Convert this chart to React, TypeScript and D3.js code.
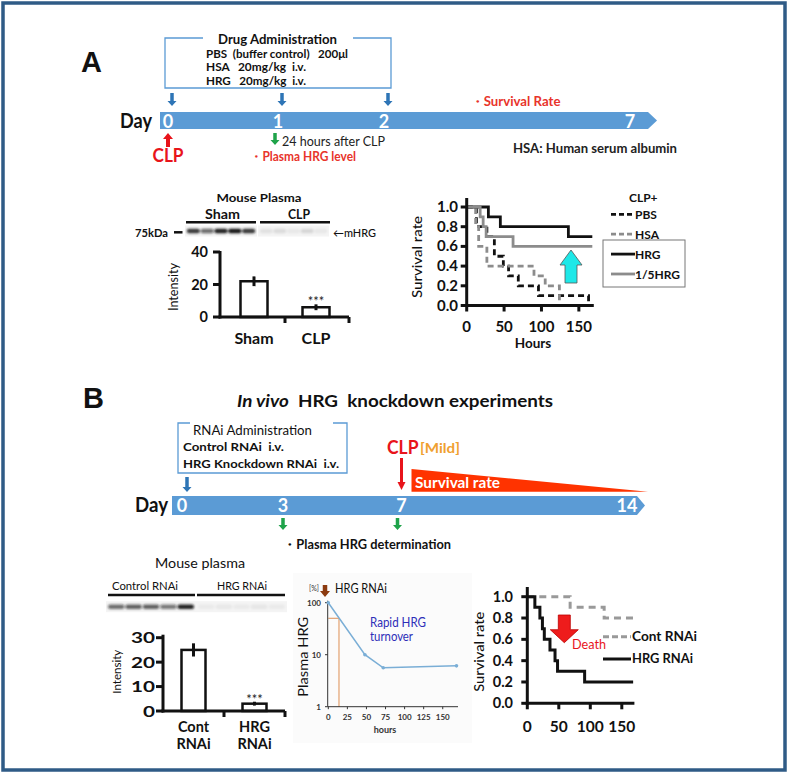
import React, { useEffect } from 'react';
import * as d3 from 'd3';

const W = 790;
const H = 774;
const F = "Lato, 'Open Sans', sans-serif";
const FA = "'Liberation Sans', Arial, sans-serif";

// ---- Panel A timeline
const daysA = [0, 1, 2, 7];
const dosingDaysA = [0, 1, 2];

// ---- Panel A: plasma HRG (western blot quantification)
const barCatsA = ['Sham', 'CLP'];
const barValsA = [22, 6];
const barErrA = [3, 1.8];
const barTicksA = [0, 20, 40];
const blotShamA = [0.85, 0.6, 0.95, 1, 0.85];
const blotClpA = [0.08, 0.1, 0.05, 0.12, 0.05];

// ---- Panel A: survival after CLP (hours, fraction)
const survPBS = [[0, 1], [13, 0.8], [27, 0.7], [37, 0.5], [49, 0.4], [56, 0.3], [69, 0.2], [96, 0.1], [163, 0]];
const survHSA = [[0, 1], [12, 0.8], [16, 0.6], [27, 0.4], [90, 0.3], [105, 0.2], [124, 0]];
const survHRG = [[0, 1], [29, 0.9], [45, 0.8], [136, 0.7]];
const survHRG5 = [[0, 1], [18, 0.9], [22, 0.8], [26, 0.7], [62, 0.6]];
const survEnd = 168;
const survTicksX = [0, 50, 100, 150];
const survTicksY = [0, 0.2, 0.4, 0.6, 0.8, 1.0];

// ---- Panel B timeline
const daysB = [0, 3, 7, 14];
const samplingDaysB = [3, 7];

// ---- Panel B: plasma HRG after RNAi
const barCatsB = [['Cont', 'RNAi'], ['HRG', 'RNAi']];
const barValsB = [25, 3];
const barErrB = [2.7, 0.8];
const barTicksB = [0, 10, 20, 30];
const blotCtrlB = [0.6, 0.65, 0.65, 0.55, 0.95];
const blotHrgB = [0.04, 0.05, 0.04, 0.06, 0.04];

// ---- Panel B: HRG turnover (hours, % of initial)
const turnHours = [0, 48, 72, 168];
const turnPct = [100, 10, 5.6, 6.1];
const halfHour = 14;
const turnTicksX = [0, 25, 50, 75, 100, 125, 150];
const turnTicksY = [1, 10, 100];

// ---- Panel B: survival
const survCont = [[0, 1], [68, 0.9], [122, 0.8]];
const survKd = [[0, 1], [12, 0.9], [20, 0.8], [24, 0.7], [27, 0.6], [36, 0.5], [44, 0.4], [48, 0.3], [91, 0.2]];

function Txt({ x, y, size, children, weight = 700, fill = '#111', anchor = 'start', len, italic, family = F, rot }: any) {
  return (
    <text
      x={x}
      y={y}
      fontSize={size}
      fontWeight={weight}
      fill={fill}
      textAnchor={anchor}
      fontFamily={family}
      fontStyle={italic ? 'italic' : undefined}
      textLength={len}
      lengthAdjust={len ? 'spacingAndGlyphs' : undefined}
      transform={rot ? `rotate(${rot},${x},${y})` : undefined}
      style={{ whiteSpace: 'pre' }}
    >
      {children}
    </text>
  );
}

function blockArrow(cx: number, y0: number, y1: number, shaft: number, head: number, headLen: number) {
  const dir = y1 > y0 ? 1 : -1;
  const yh = y1 - dir * headLen;
  const p = d3.path();
  p.moveTo(cx - shaft / 2, y0);
  p.lineTo(cx - shaft / 2, yh);
  p.lineTo(cx - head / 2, yh);
  p.lineTo(cx, y1);
  p.lineTo(cx + head / 2, yh);
  p.lineTo(cx + shaft / 2, yh);
  p.lineTo(cx + shaft / 2, y0);
  p.closePath();
  return p.toString();
}

function timelineBar(x0: number, x1: number, tip: number, top: number, bot: number) {
  const p = d3.path();
  p.moveTo(x0, top);
  p.lineTo(x1, top);
  p.lineTo(tip, (top + bot) / 2);
  p.lineTo(x1, bot);
  p.lineTo(x0, bot);
  p.closePath();
  return p.toString();
}

function stepPath(data: number[][], x: any, y: any) {
  const last = data[data.length - 1];
  const pts = last[1] > 0 ? data.concat([[survEnd, last[1]]]) : data;
  return d3.line<number[]>().x(d => x(d[0])).y(d => y(d[1])).curve(d3.curveStepAfter)(pts) as string;
}

function Blot({ lanes, x0, x1, yc }: any) {
  const lx = d3.scaleBand<number>().domain(d3.range(lanes.length)).range([x0, x1]).padding(0.06);
  return (
    <g>
      <rect x={x0 - 1} y={yc - 5.5} width={x1 - x0 + 2} height={11} fill="#f4f4f4" />
      <g filter="url(#blur)">
        {lanes.map((v: number, i: number) => (
          <rect key={i} x={lx(i)} y={yc - 2.3} width={lx.bandwidth()} height={4.6} rx={2} fill="#151515" fillOpacity={v} />
        ))}
      </g>
    </g>
  );
}

export default function App() {
  useEffect(() => {
    document.body.style.margin = '0';
  }, []);

  // timelines
  const tA = d3.scaleLinear().domain(daysA).range([168, 278, 384, 630]);
  const tB = d3.scaleLinear().domain(daysB).range([182, 283, 401.5, 627]);

  // bar A
  const bxA = d3.scaleBand<string>().domain(barCatsA).range([223, 347]);
  const byA = d3.scaleLinear().domain([0, 40]).range([317, 252]);
  const bwA = 27;

  // survival A
  const sxA = d3.scaleLinear().domain([0, 170]).range([466.7, 593.8]);
  const syA = d3.scaleLinear().domain([0, 1]).range([305.5, 207]);
  const seriesA = [
    { name: 'PBS', data: survPBS, color: '#111', dash: '6,4' },
    { name: 'HSA', data: survHSA, color: '#8c8c8c', dash: '6,4' },
    { name: 'HRG', data: survHRG, color: '#111', dash: undefined },
    { name: '1/5HRG', data: survHRG5, color: '#8c8c8c', dash: undefined },
  ];
  const legY = d3.scaleLinear().domain([0, 3]).range([214.3, 274]);

  // bar B
  const bxB = d3.scaleBand<number>().domain([0, 1]).range([163, 285]);
  const byB = d3.scaleLinear().domain([0, 30]).range([711, 637.7]);
  const bwB = 24;

  // turnover
  const txT = d3.scaleLinear().domain([0, 170]).range([328.3, 458]);
  const tyT = d3.scaleLog().domain([1, 100]).range([706.7, 602.7]);
  const turnLine = d3.line<number>().x((_, i) => txT(turnHours[i])).y(d => tyT(d))(turnPct) as string;

  // survival B
  const sxB = d3.scaleLinear().domain([0, 170]).range([527.3, 634.4]);
  const syB = d3.scaleLinear().domain([0, 1]).range([703.3, 596.7]);
  const seriesB = [
    { name: 'Cont RNAi', data: survCont, color: '#999', dash: '7,5' },
    { name: 'HRG RNAi', data: survKd, color: '#111', dash: undefined },
  ];

  const red = '#e8141b';
  const blue = '#5b9bd5';
  const arrowBlue = '#2e75b6';
  const green = '#1fa34a';

  return (
    <svg width={W} height={H} viewBox={`0 0 ${W} ${H}`} style={{ display: 'block', background: '#fff' }}>
      <defs>
        <filter id="blur" x="-10%" y="-100%" width="120%" height="300%">
          <feGaussianBlur stdDeviation="0.9" />
        </filter>
      </defs>
      <rect x={3} y={3} width={782} height={767} fill="none" stroke="#2f5b86" strokeWidth={3.5} />

      {/* ================= PANEL A ================= */}
      <Txt x={81} y={72} size={29} family={FA}>A</Txt>

      <path d="M203,38 H165 V88 H391 V38 H353" fill="none" stroke={blue} strokeWidth={1.3} />
      <Txt x={277.5} y={43.5} size={14} anchor="middle" len={119}>Drug Administration</Txt>
      <Txt x={206} y={57.5} size={11.5} len={142}>{'PBS  (buffer control)   200μl'}</Txt>
      <Txt x={206} y={71} size={11.5} len={100}>{'HSA   20mg/kg  i.v.'}</Txt>
      <Txt x={206} y={84.5} size={11.5} len={100}>{'HRG   20mg/kg  i.v.'}</Txt>

      {dosingDaysA.map(d => (
        <path key={d} d={blockArrow(tA(d) + 4, 93, 106, 3.5, 9, 5)} fill={arrowBlue} />
      ))}

      <path d={timelineBar(160, 648, 657, 112, 129)} fill={blue} />
      <Txt x={120} y={128} size={20} len={32}>Day</Txt>
      {daysA.map(d => (
        <Txt key={d} x={tA(d)} y={127.5} size={18} fill="#fff" anchor="middle">{d}</Txt>
      ))}

      <path d={blockArrow(tA(0), 147, 133, 4, 10, 6)} fill={red} />
      <Txt x={tA(0)} y={162} size={18} fill={red} anchor="middle" len={31}>CLP</Txt>
      <path d={blockArrow(tA(1) - 3, 133, 145, 3.5, 9, 5)} fill={green} />
      <Txt x={282} y={145.5} size={14} weight={400} fill="#222" len={103}>24 hours after CLP</Txt>
      <Txt x={250} y={161} size={12.5} fill="#e8342b" len={106}>・Plasma HRG level</Txt>
      <Txt x={470.5} y={106} size={13} fill="#e8342b" len={90}>・Survival Rate</Txt>
      <Txt x={513} y={153} size={12.5} fill="#222" len={164}>HSA: Human serum albumin</Txt>

      {/* blot A */}
      <Txt x={259} y={202} size={12} anchor="middle" len={85}>Mouse Plasma</Txt>
      <Txt x={222.5} y={219} size={13.5} anchor="middle" len={35}>Sham</Txt>
      <Txt x={299} y={219} size={13.5} anchor="middle" len={22}>CLP</Txt>
      <line x1={186} x2={256} y1={222.3} y2={222.3} stroke="#111" strokeWidth={2.5} />
      <line x1={260} x2={330} y1={222.3} y2={222.3} stroke="#111" strokeWidth={2.5} />
      <Blot lanes={blotShamA} x0={186} x1={256} yc={231} />
      <Blot lanes={blotClpA} x0={259} x1={328} yc={231} />
      <Txt x={135} y={236.5} size={10.5} len={33}>75kDa</Txt>
      <line x1={174} x2={182.5} y1={232.3} y2={232.3} stroke="#111" strokeWidth={2.5} />
      <Txt x={333} y={236.5} size={11} weight={500} len={43}>←mHRG</Txt>

      {/* bar A */}
      <Txt x={177.5} y={287} size={12.5} weight={400} anchor="middle" rot={-90} len={48}>Intensity</Txt>
      {barCatsA.map((c, i) => {
        const cx = (bxA(c) as number) + bxA.bandwidth() / 2;
        return (
          <g key={c}>
            <rect x={cx - bwA / 2} y={byA(barValsA[i])} width={bwA} height={byA(0) - byA(barValsA[i])} fill="#fff" stroke="#111" strokeWidth={2.5} />
            <line x1={cx} x2={cx} y1={byA(barValsA[i] - barErrA[i])} y2={byA(barValsA[i] + barErrA[i])} stroke="#111" strokeWidth={3} />
            <Txt x={cx} y={344} size={16} anchor="middle">{c}</Txt>
          </g>
        );
      })}
      <Txt x={(bxA('CLP') as number) + bxA.bandwidth() / 2} y={byA(barValsA[1] + barErrA[1]) + 1.5} size={13} weight={400} fill="#222" anchor="middle">***</Txt>
      <line x1={220} x2={220} y1={byA(40) - 1} y2={byA(0) + 1.5} stroke="#111" strokeWidth={3} />
      <line x1={218.5} x2={349} y1={byA(0)} y2={byA(0)} stroke="#111" strokeWidth={3} />
      {barTicksA.map(t => (
        <g key={t}>
          <line x1={213} x2={220} y1={byA(t)} y2={byA(t)} stroke="#111" strokeWidth={3} />
          <Txt x={208} y={byA(t) + 5} size={14.5} anchor="end">{t}</Txt>
        </g>
      ))}
      {[bxA('CLP') as number, 349].map((x, i) => (
        <line key={i} x1={x} x2={x} y1={byA(0)} y2={byA(0) + 6} stroke="#111" strokeWidth={3} />
      ))}

      {/* survival A */}
      <Txt x={421.5} y={257} size={13} weight={500} anchor="middle" rot={-90} len={82}>Survival rate</Txt>
      {seriesA.map(s => (
        <path key={s.name} d={stepPath(s.data, sxA, syA)} fill="none" stroke={s.color} strokeWidth={2.8} strokeDasharray={s.dash} />
      ))}
      <line x1={sxA(0)} x2={sxA(0)} y1={198} y2={syA(0) + 1.5} stroke="#111" strokeWidth={3} />
      <line x1={sxA(0) - 1.5} x2={sxA(170)} y1={syA(0)} y2={syA(0)} stroke="#111" strokeWidth={3} />
      {survTicksY.map(t => (
        <g key={t}>
          <line x1={sxA(0) - 6} x2={sxA(0)} y1={syA(t)} y2={syA(t)} stroke="#111" strokeWidth={3} />
          <Txt x={458} y={syA(t) + 5} size={15} anchor="end">{d3.format('.1f')(t)}</Txt>
        </g>
      ))}
      {survTicksX.map(t => (
        <g key={t}>
          <line x1={sxA(t)} x2={sxA(t)} y1={syA(0)} y2={syA(0) + 6} stroke="#111" strokeWidth={3} />
          <Txt x={sxA(t)} y={331.5} size={15} anchor="middle">{t}</Txt>
        </g>
      ))}
      <Txt x={533} y={348} size={13.5} anchor="middle">Hours</Txt>
      <path d={blockArrow(571, 283, 250, 12, 22, 15)} fill="#1ee8e8" stroke="#555" strokeWidth={0.8} />

      <Txt x={629} y={201.5} size={12}>CLP+</Txt>
      <rect x={603} y={240} width={82} height={47} fill="none" stroke="#777" strokeWidth={1} />
      {seriesA.map((s, i) => (
        <g key={s.name}>
          <line x1={611} x2={635} y1={legY(i)} y2={legY(i)} stroke={s.color} strokeWidth={2.8} strokeDasharray={s.dash ? '5,3' : undefined} />
          <Txt x={635} y={legY(i) + 4.5} size={12}>{s.name}</Txt>
        </g>
      ))}

      {/* ================= PANEL B ================= */}
      <Txt x={83} y={408} size={29} family={FA}>B</Txt>
      <text x={237} y={406.5} fontSize={17.5} fontWeight={700} fontFamily={F} fill="#111" textLength={316} lengthAdjust="spacingAndGlyphs" style={{ whiteSpace: 'pre' }}>
        <tspan fontStyle="italic">In vivo</tspan>
        <tspan>{'  HRG  knockdown experiments'}</tspan>
      </text>

      <path d="M190,423 H178 V473 H347 V423 H333" fill="none" stroke={blue} strokeWidth={1.3} />
      <Txt x={252.5} y={435} size={14} weight={400} anchor="middle" len={119}>RNAi Administration</Txt>
      <Txt x={183} y={451} size={12} len={101}>{'Control RNAi  i.v.'}</Txt>
      <Txt x={183} y={467.5} size={12} len={156}>{'HRG Knockdown RNAi  i.v.'}</Txt>
      <path d={blockArrow(tB(0) + 5, 477, 492, 3.5, 9, 5)} fill={arrowBlue} />

      <Txt x={387} y={453.5} size={19} fill={red} len={31.5}>CLP</Txt>
      <Txt x={420} y={453} size={13} fill="#f0a030" len={40}>[Mild]</Txt>
      <path d={blockArrow(tB(7), 458, 490, 3, 8, 8)} fill={red} />
      <path d={`M${tB(7) + 10},469 L${tB(7) + 10},491.7 L648,491.7 Z`} fill="#ff3300" />
      <Txt x={415} y={488} size={15} fill="#fff" len={85}>Survival rate</Txt>

      <path d={timelineBar(172, 637, 645, 496, 515)} fill={blue} />
      <Txt x={135} y={512} size={20} len={33}>Day</Txt>
      {daysB.map(d => (
        <Txt key={d} x={tB(d)} y={512} size={18} fill="#fff" anchor="middle">{d}</Txt>
      ))}
      {samplingDaysB.map(d => (
        <path key={d} d={blockArrow(d === 7 ? tB(d) - 4 : tB(d), 518, 530, 3.5, 9, 5)} fill={green} />
      ))}
      <Txt x={283} y={548.5} size={12.5} len={168}>・Plasma HRG determination</Txt>

      {/* blot B */}
      <Txt x={200} y={568} size={14} weight={400} anchor="middle" len={90}>Mouse plasma</Txt>
      <Txt x={112} y={590} size={11} weight={400} len={66}>Control RNAi</Txt>
      <Txt x={217} y={590} size={11} weight={400} len={50}>HRG RNAi</Txt>
      <line x1={108} x2={195} y1={595} y2={595} stroke="#111" strokeWidth={2.5} />
      <line x1={197} x2={285} y1={595} y2={595} stroke="#111" strokeWidth={2.5} />
      <Blot lanes={blotCtrlB} x0={107} x1={195} yc={606.7} />
      <Blot lanes={blotHrgB} x0={197} x1={286} yc={606.7} />

      {/* bar B */}
      <Txt x={121.5} y={671.7} size={12} weight={400} anchor="middle" rot={-90} len={44}>Intensity</Txt>
      {barCatsB.map((c, i) => {
        const cx = (bxB(i) as number) + bxB.bandwidth() / 2;
        return (
          <g key={i}>
            <rect x={cx - bwB / 2} y={byB(barValsB[i])} width={bwB} height={byB(0) - byB(barValsB[i])} fill="#fff" stroke="#111" strokeWidth={2.5} />
            <line x1={cx} x2={cx} y1={byB(barValsB[i] - barErrB[i])} y2={byB(barValsB[i] + barErrB[i])} stroke="#111" strokeWidth={3} />
            <Txt x={cx} y={731.5} size={14.5} anchor="middle">{c[0]}</Txt>
            <Txt x={cx} y={748.5} size={14.5} anchor="middle">{c[1]}</Txt>
          </g>
        );
      })}
      <Txt x={(bxB(1) as number) + bxB.bandwidth() / 2} y={byB(barValsB[1] + barErrB[1]) + 2.5} size={13} weight={400} fill="#222" anchor="middle">***</Txt>
      <line x1={163} x2={163} y1={byB(30) - 3} y2={byB(0) + 1.5} stroke="#111" strokeWidth={3} />
      <line x1={161.5} x2={285} y1={byB(0)} y2={byB(0)} stroke="#111" strokeWidth={3} />
      {barTicksB.map(t => (
        <g key={t}>
          <line x1={156} x2={163} y1={byB(t)} y2={byB(t)} stroke="#111" strokeWidth={3} />
          <Txt x={155} y={byB(t) + 5.5} size={14.5} anchor="end" len={String(t).length * 12}>{t}</Txt>
        </g>
      ))}
      {[bxB(1) as number, 285].map((x, i) => (
        <line key={i} x1={x} x2={x} y1={byB(0)} y2={byB(0) + 6} stroke="#111" strokeWidth={3} />
      ))}

      {/* turnover chart */}
      <rect x={293} y={573} width={179} height={170} fill="#fbfbfb" />
      <Txt x={309} y={591} size={7} weight={400} fill="#333">[%]</Txt>
      <path d={blockArrow(325, 585, 597, 4.5, 10, 6)} fill="#8b3a0f" />
      <Txt x={335} y={593} size={12.5} weight={400} len={52}>HRG RNAi</Txt>
      <Txt x={308} y={656.7} size={14} weight={400} anchor="middle" rot={-90} len={80}>Plasma HRG</Txt>
      <line x1={txT(0)} x2={txT(halfHour)} y1={tyT(50)} y2={tyT(50)} stroke="#e4a77a" strokeWidth={1.3} />
      <line x1={txT(halfHour)} x2={txT(halfHour)} y1={tyT(50)} y2={tyT(1)} stroke="#e4a77a" strokeWidth={1.3} />
      <line x1={327.7} x2={327.7} y1={tyT(100) - 2} y2={tyT(1)} stroke="#333" strokeWidth={1} />
      <line x1={327.7} x2={txT(170)} y1={tyT(1)} y2={tyT(1)} stroke="#333" strokeWidth={1} />
      {turnTicksY.map(t => (
        <g key={t}>
          <line x1={325} x2={327.7} y1={tyT(t)} y2={tyT(t)} stroke="#333" strokeWidth={1} />
          <Txt x={321} y={tyT(t) + 3} size={8} fill="#333" anchor="end">{t}</Txt>
        </g>
      ))}
      {turnTicksX.map(t => (
        <g key={t}>
          <line x1={txT(t)} x2={txT(t)} y1={tyT(1)} y2={tyT(1) + 2.5} stroke="#333" strokeWidth={1} />
          <Txt x={txT(t)} y={720} size={8} fill="#333" anchor="middle">{t}</Txt>
        </g>
      ))}
      <Txt x={385} y={733} size={9} fill="#333" anchor="middle">hours</Txt>
      <path d={turnLine} fill="none" stroke="#7aaed6" strokeWidth={1.5} />
      {turnPct.map((v, i) => (
        <circle key={i} cx={txT(turnHours[i])} cy={tyT(v)} r={1.8} fill="#7aaed6" />
      ))}
      <Txt x={370} y={626.5} size={12.5} weight={400} fill="#2e2eb8" len={56}>Rapid HRG</Txt>
      <Txt x={370} y={640.5} size={12.5} weight={400} fill="#2e2eb8" len={43}>turnover</Txt>

      {/* survival B */}
      <Txt x={484.5} y={651.7} size={13} weight={500} anchor="middle" rot={-90} len={80}>Survival rate</Txt>
      {seriesB.map(s => (
        <path key={s.name} d={stepPath(s.data, sxB, syB)} fill="none" stroke={s.color} strokeWidth={3} strokeDasharray={s.dash} />
      ))}
      <line x1={sxB(0)} x2={sxB(0)} y1={587} y2={syB(0) + 1.5} stroke="#111" strokeWidth={3} />
      <line x1={sxB(0) - 1.5} x2={sxB(170)} y1={syB(0)} y2={syB(0)} stroke="#111" strokeWidth={3} />
      {survTicksY.map(t => (
        <g key={t}>
          <line x1={sxB(0) - 6} x2={sxB(0)} y1={syB(t)} y2={syB(t)} stroke="#111" strokeWidth={3} />
          <Txt x={513} y={syB(t) + 5} size={14.5} anchor="end">{d3.format('.1f')(t)}</Txt>
        </g>
      ))}
      {survTicksX.map(t => (
        <g key={t}>
          <line x1={sxB(t)} x2={sxB(t)} y1={syB(0)} y2={syB(0) + 6} stroke="#111" strokeWidth={3} />
          <Txt x={sxB(t)} y={731.5} size={15.5} anchor="middle">{t}</Txt>
        </g>
      ))}
      <path d={blockArrow(564.3, 615, 642.7, 12, 28, 13)} fill="#ee1c1c" stroke="#b00" strokeWidth={0.8} />
      <Txt x={572} y={649.3} size={14} weight={400} fill={red} len={34}>Death</Txt>
      {seriesB.map((s, i) => (
        <g key={s.name}>
          <line x1={603} x2={631} y1={636.7 + i * 22.3} y2={636.7 + i * 22.3} stroke={s.color} strokeWidth={3} strokeDasharray={s.dash ? '6,3' : undefined} />
          <Txt x={632} y={641 + i * 22.3} size={13} len={i === 0 ? 65 : 61}>{s.name}</Txt>
        </g>
      ))}
    </svg>
  );
}
